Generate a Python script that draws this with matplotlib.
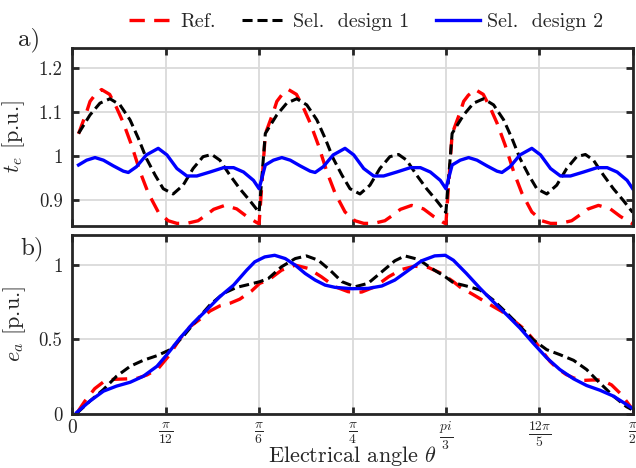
import numpy as np
import matplotlib
matplotlib.use("Agg")
import matplotlib.pyplot as plt

# ---- data (electrical angle in degrees, values in p.u.) ----
# torque: one period (30 deg), repeated over the three periods shown
te_ref_deg = [1.0, 2.3, 2.85, 3.6, 4.7, 6.0, 7.1, 8.2, 9.5, 10.9, 12.2, 13.8, 15.4, 16.8,
              18.4, 20.2, 21.6, 22.7, 24.5, 26.4, 28.0, 29.6, 30.0]
te_ref = [1.05, 1.10, 1.124, 1.138, 1.151, 1.14, 1.11, 1.075, 1.025, 0.963, 0.915, 0.872, 0.852, 0.846,
          0.846, 0.852, 0.866, 0.878, 0.887, 0.879, 0.862, 0.848, 0.845]

te_sel1_deg = [1.0, 2.84, 4.44, 6.05, 7.66, 9.27, 10.6, 11.9, 13.3, 14.6, 16.2, 17.8, 19.4,
               21.0, 22.4, 23.7, 25.3, 26.9, 28.5, 30.0]
te_sel1 = [1.051, 1.093, 1.12, 1.13, 1.116, 1.082, 1.04, 0.994, 0.956, 0.925, 0.913, 0.933, 0.971,
           0.998, 1.003, 0.99, 0.956, 0.925, 0.898, 0.871]

te_sel2_deg = [1.0, 2.3, 3.65, 5.0, 6.6, 8.2, 9.0, 10.3, 11.9, 13.8, 15.2, 16.8, 18.4, 20.0,
               22.1, 24.3, 25.9, 27.5, 29.1, 30.0]
te_sel2 = [0.979, 0.99, 0.996, 0.99, 0.977, 0.965, 0.962, 0.975, 1.002, 1.017, 1.002, 0.971, 0.954, 0.954,
           0.963, 0.973, 0.973, 0.963, 0.944, 0.925]

# back-emf
ea_ref_deg = [0.8, 2.0, 3.6, 5.0, 6.5, 8.5, 10.5, 12.0, 13.8, 15.5, 17.3, 18.9, 20.5, 22.1, 23.7, 25.3,
              26.9, 28.8, 30.1, 31.5, 33.6, 35.8, 37.9, 40.0, 42.2, 44.3, 45.5, 46.5, 48.6, 50.8,
              52.9, 55.0, 57.2, 59.3, 61.2, 62.3, 64.4, 66.8, 69.0, 70.8, 72.7, 74.3, 76.7, 77.8,
              79.3, 80.5, 82.0, 83.5, 85.0, 86.6, 88.2, 89.9]
ea_ref = [0.01, 0.085, 0.17, 0.215, 0.232, 0.235, 0.24, 0.262, 0.305, 0.39, 0.505, 0.585, 0.635, 0.69,
          0.725, 0.742, 0.77, 0.825, 0.876, 0.898, 0.964, 0.998, 0.976, 0.92, 0.853, 0.82, 0.815,
          0.818, 0.853, 0.92, 0.969, 0.991, 0.982, 0.942, 0.887, 0.85, 0.8, 0.74, 0.687, 0.63,
          0.565, 0.487, 0.353, 0.309, 0.265, 0.242, 0.225, 0.228, 0.228, 0.195, 0.13, 0.035]

ea_sel1_deg = [0.7, 2.84, 5.0, 7.1, 9.3, 11.4, 13.6, 15.7, 17.8, 20.0, 22.1, 24.3, 26.4, 28.6, 30.1,
               31.5, 33.6, 35.8, 37.6, 39.5, 41.4, 43.3, 45.4, 47.5, 49.7, 51.8, 53.4, 55.6, 57.7,
               59.9, 61.2, 63.3, 65.5, 67.6, 69.8, 71.9, 74.0, 76.2, 78.3, 80.5, 82.6, 84.7, 86.9,
               89.0, 89.8]
ea_sel1 = [0.004, 0.087, 0.164, 0.253, 0.32, 0.36, 0.391, 0.431, 0.52, 0.631, 0.731, 0.809, 0.849, 0.871,
           0.887, 0.909, 0.987, 1.042, 1.06, 1.031, 0.964, 0.887, 0.853, 0.876, 0.953, 1.027, 1.06,
           1.036, 0.976, 0.92, 0.88, 0.858, 0.831, 0.764, 0.676, 0.587, 0.498, 0.431, 0.398, 0.36,
           0.298, 0.209, 0.12, 0.049, 0.031]

ea_sel2_deg = [0.7, 2.84, 5.0, 7.1, 9.3, 11.4, 13.6, 15.2, 17.3, 19.4, 21.6, 23.7, 25.9, 28.0, 29.3,
               30.9, 32.5, 34.2, 35.8, 37.4, 39.0, 40.6, 42.2, 44.9, 47.5, 49.7, 51.8, 54.0, 56.1,
               58.2, 59.9, 61.2, 63.3, 65.5, 67.6, 69.8, 71.9, 74.0, 76.2, 78.3, 80.5, 82.6, 84.7,
               86.9, 89.0, 90.0]
ea_sel2 = [0.01, 0.087, 0.153, 0.187, 0.213, 0.253, 0.32, 0.398, 0.509, 0.609, 0.698, 0.787, 0.864,
           0.964, 1.02, 1.053, 1.064, 1.042, 0.998, 0.942, 0.898, 0.864, 0.849, 0.84, 0.842, 0.858,
           0.898, 0.964, 1.027, 1.06, 1.064, 1.031, 0.942, 0.842, 0.753, 0.664, 0.576, 0.476, 0.376,
           0.298, 0.236, 0.191, 0.16, 0.12, 0.064, 0.036]

n_periods = 3
period_deg = 30.0

xtick_labels = ["0", r"$\frac{\pi}{12}$", r"$\frac{\pi}{6}$", r"$\frac{\pi}{4}$",
                r"$\frac{pi}{3}$", r"$\frac{12\pi}{5}$", r"$\frac{\pi}{2}$"]
te_yticks = [0.9, 1.0, 1.1, 1.2]
te_ytick_labels = ["0.9", "1", "1.1", "1.2"]
ea_yticks = [0.0, 0.5, 1.0]
ea_ytick_labels = ["0", "0.5", "1"]

# ---- style ----
plt.rcParams["font.family"] = "serif"
plt.rcParams["font.serif"] = ["cmr10"]
plt.rcParams["mathtext.fontset"] = "cm"
plt.rcParams["axes.unicode_minus"] = False
plt.rcParams["axes.formatter.use_mathtext"] = True

TXT = "#262626"
RED = "#ff0000"
BLK = "#000000"
BLU = "#0000ff"
RED_DASH = (4.6, 2.8)
BLK_DASH = (3.3, 1.6)


def tile(deg, val):
    x = np.concatenate([np.asarray(deg) + k * period_deg for k in range(n_periods)])
    y = np.tile(np.asarray(val), n_periods)
    return np.deg2rad(x), y


def style_axes(ax):
    ax.set_xlim(0, np.pi / 2)
    ax.set_xticks(np.arange(7) * np.pi / 12)
    ax.grid(True, color="#dadada", linewidth=1.3)
    ax.set_axisbelow(True)
    for s in ax.spines.values():
        s.set_linewidth(2.0)
        s.set_color(TXT)
    ax.tick_params(direction="in", length=5, width=2.0, top=True, right=True,
                   colors=TXT, labelsize=13.5, pad=7)


fig = plt.figure(figsize=(6.36, 4.68), dpi=100)
ax1 = fig.add_axes([72.3 / 636, 1 - 226 / 468, 560.4 / 636, 177.7 / 468])
ax2 = fig.add_axes([72.3 / 636, 1 - 414 / 468, 560.4 / 636, 179 / 468])

# top: torque
x, y = tile(te_ref_deg, te_ref)
l_ref, = ax1.plot(x, y, color=RED, lw=2.4, dashes=RED_DASH, label="Ref.")
x, y = tile(te_sel1_deg, te_sel1)
l_s1, = ax1.plot(x, y, color=BLK, lw=2.2, dashes=BLK_DASH, label="Sel.  design 1")
x, y = tile(te_sel2_deg, te_sel2)
l_s2, = ax1.plot(x, y, color=BLU, lw=2.4, label="Sel.  design 2")
style_axes(ax1)
ax1.set_ylim(0.84, 1.245)
ax1.set_yticks(te_yticks)
ax1.set_yticklabels(te_ytick_labels)
ax1.set_xticklabels([])
ax1.set_ylabel(r"$t_e$ [p.u.]", fontsize=16, color=TXT, labelpad=8)

# bottom: back-emf
ax2.plot(np.deg2rad(ea_ref_deg), ea_ref, color=RED, lw=2.4, dashes=RED_DASH)
ax2.plot(np.deg2rad(ea_sel1_deg), ea_sel1, color=BLK, lw=2.2, dashes=BLK_DASH)
ax2.plot(np.deg2rad(ea_sel2_deg), ea_sel2, color=BLU, lw=2.4)
style_axes(ax2)
ax2.set_ylim(0, 1.2)
ax2.set_yticks(ea_yticks)
ax2.set_yticklabels(ea_ytick_labels)
ax2.set_xticklabels(xtick_labels, fontsize=14)
ax2.tick_params(axis="x", pad=4)
ax2.set_ylabel(r"$e_a$ [p.u.]", fontsize=16, color=TXT, labelpad=8)
ax2.set_xlabel(r"Electrical angle $\theta$", fontsize=16, color=TXT, va="baseline")
ax2.xaxis.set_label_coords(0.5, -(462 - 414) / 179)

fig.text(18 / 636, 1 - 40 / 468, "a)", fontsize=18, color=TXT, ha="left", va="center")
fig.text(20 / 636, 1 - 249 / 468, "b)", fontsize=18, color=TXT, ha="left", va="center")

fig.legend(handles=[l_ref, l_s1, l_s2], loc="center", bbox_to_anchor=(366 / 636, 1 - 22 / 468),
           ncol=3, frameon=False, fontsize=14.5, handlelength=2.2, handletextpad=0.35,
           columnspacing=1.3, labelcolor=TXT)

fig.savefig("out.png", dpi=100)
